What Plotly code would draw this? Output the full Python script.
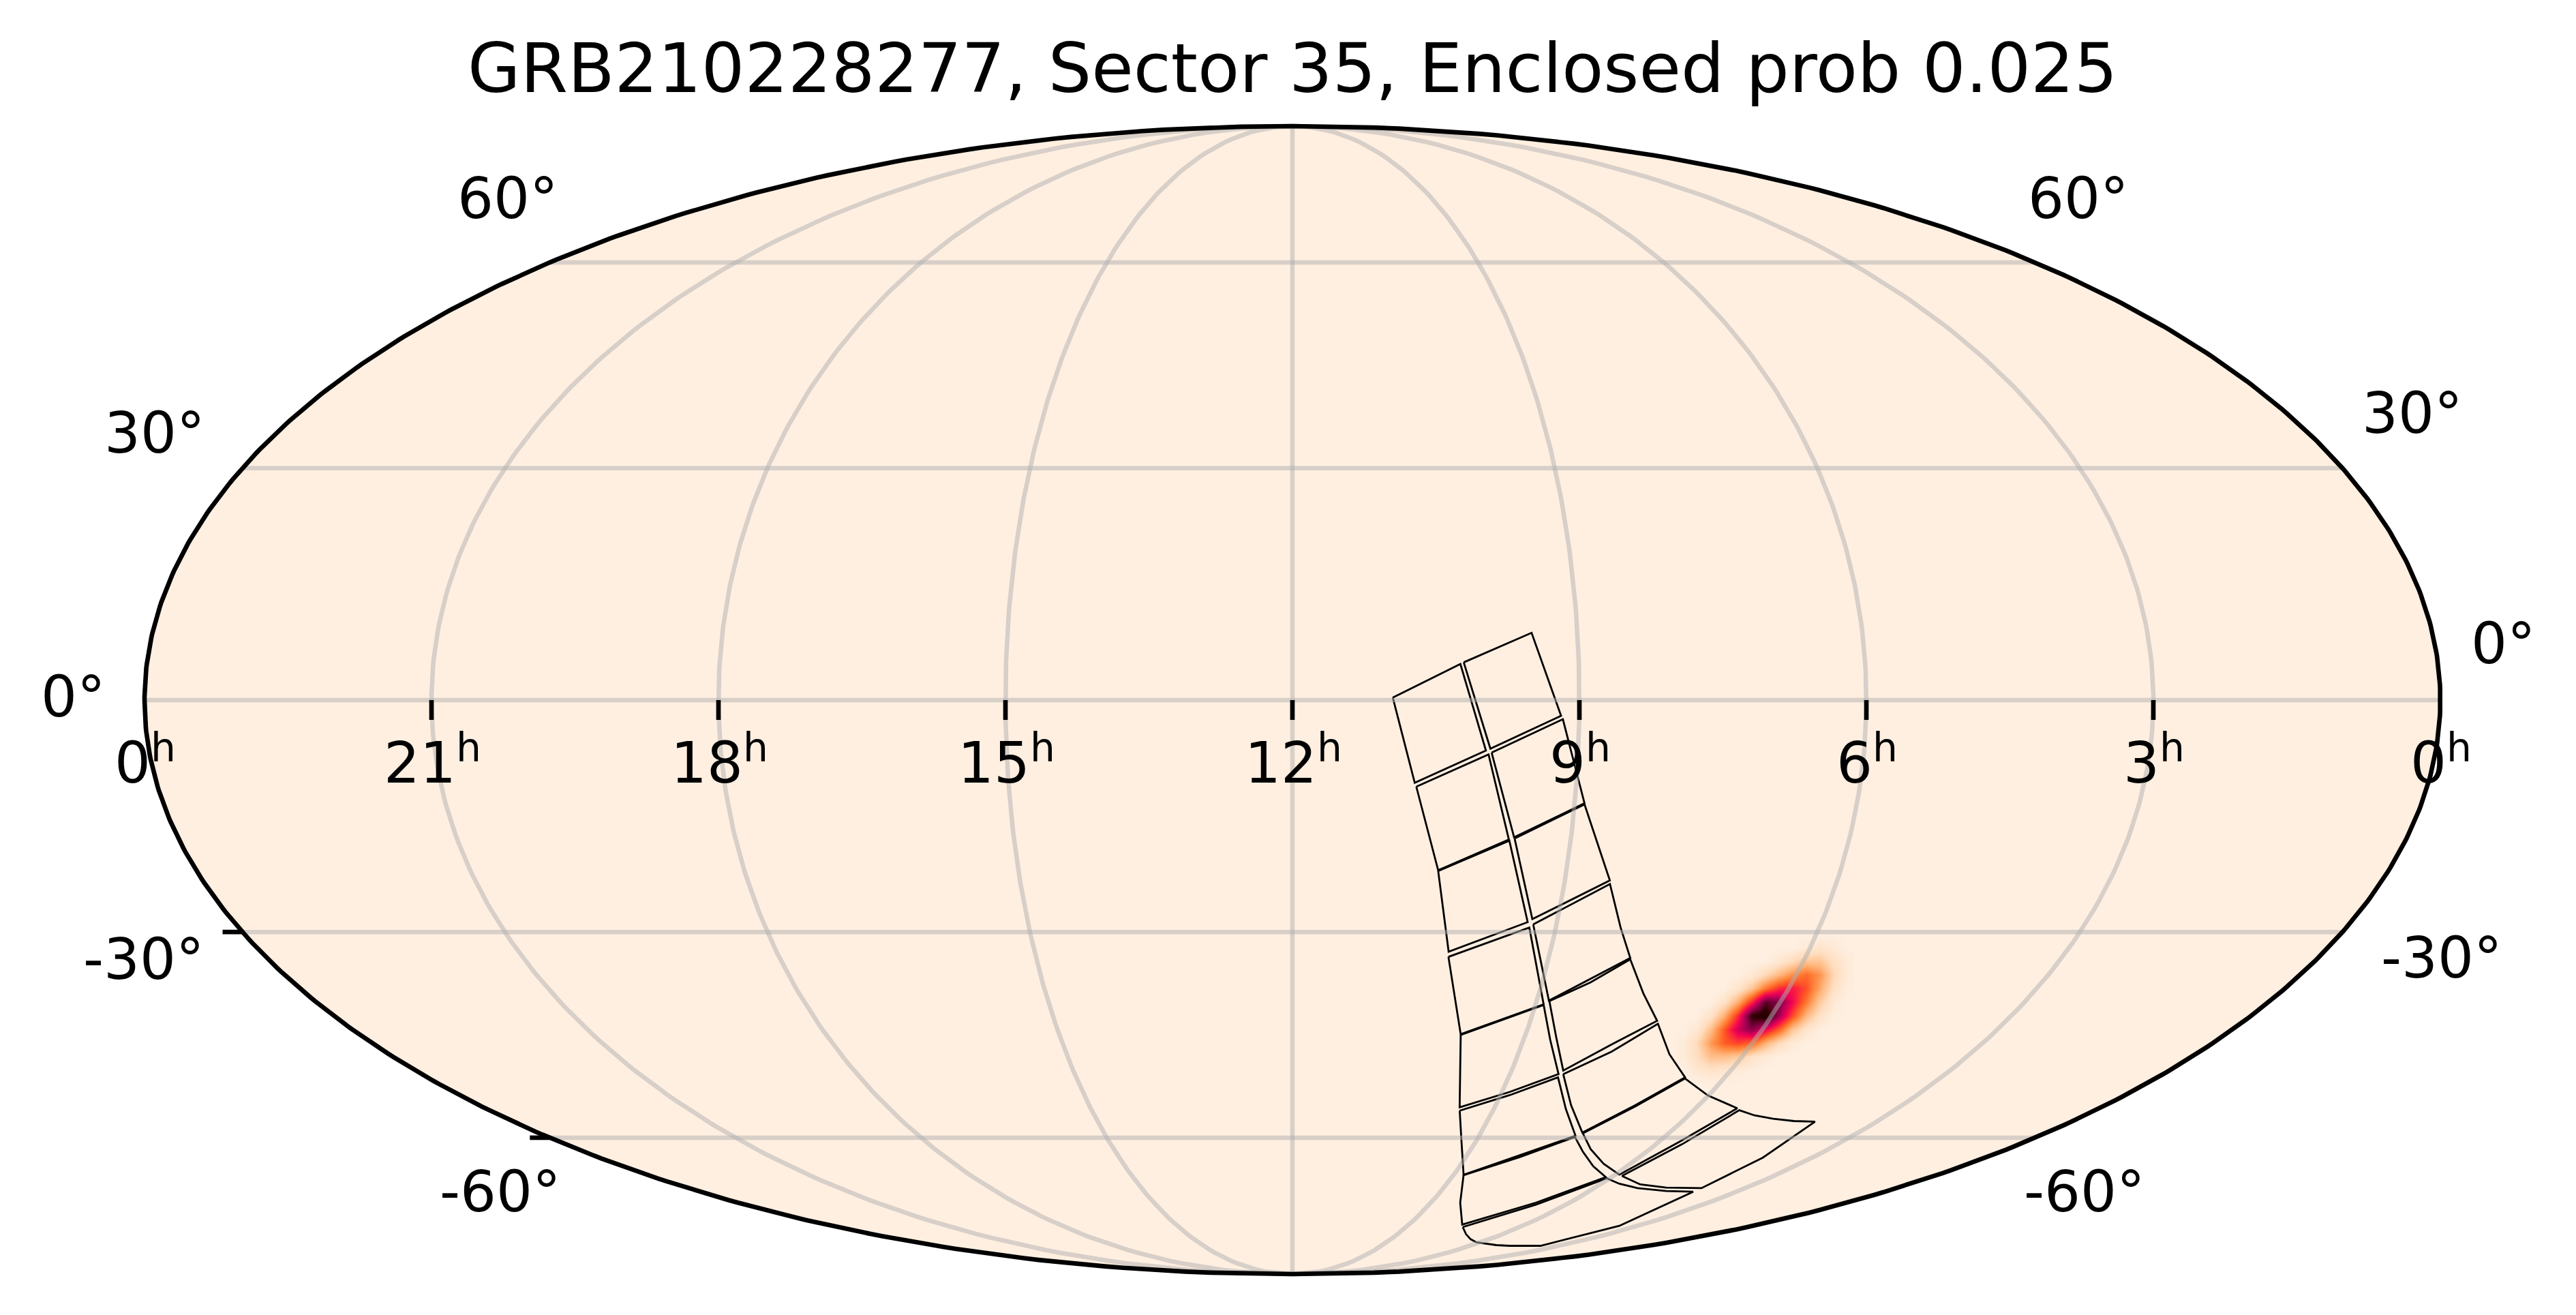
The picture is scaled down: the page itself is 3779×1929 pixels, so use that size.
import numpy as np
import plotly.graph_objects as go

title = "GRB210228277, Sector 35, Enclosed prob 0.025"

# CCD outlines of the sector footprint, RA and Dec in degrees
ccd_ra = [
    [164.26, 153.61, 149.54, 160.62],
    [153.08, 142.24, 137.86, 148.85],
    [160.35, 149.11, 145.01, 156.07],
    [148.63, 137.57, 133.44, 144.2],
    [156.06, 144.91, 140.0, 152.75],
    [144.1, 133.42, 127.57, 139.3],
    [152.65, 139.54, 133.55, 147.55],
    [138.98, 133.25, 127.44, 123.95, 120.7, 132.8],
    [147.51, 133.5, 129.88, 124.99, 133.37, 142.8, 145.52],
    [132.68, 126.3, 120.63, 116.0, 111.04, 117.47, 124.41, 128.9],
    [142.47, 133.03, 124.75, 118.91, 111.83, 121.39, 132.28, 138.48],
    [124.02, 116.7, 110.6, 104.89, 98.32, 104.16, 110.87, 118.31],
    [132.18, 121.01, 111.7, 106.27, 99.18, 91.66, 100.97, 114.43, 125.54],
    [110.59, 103.93, 98.12, 90.09, 80.8, 84.99, 88.86, 97.21, 104.93],
    [112.62, 99.94, 90.85, 84.83, 77.2, 66.87, 58.24, 52.28, 54.53, 70.1, 78.0, 86.74, 92.0, 98.59, 105.8],
    [87.62, 83.57, 79.85, 75.0, 69.81, 64.3, 59.28, 57.84, 58.17, 68.94, 78.38],
]
ccd_dec = [
    [0.32, 4.59, -6.42, -10.54],
    [4.8, 8.56, -1.99, -6.18],
    [-11.03, -6.91, -17.84, -21.83],
    [-6.68, -2.43, -13.16, -17.55],
    [-21.92, -17.99, -28.68, -32.65],
    [-17.7, -13.3, -23.17, -28.28],
    [-33.36, -29.41, -39.92, -44.18],
    [-28.99, -26.33, -23.63, -29.41, -33.52, -39.4],
    [-44.28, -40.02, -44.95, -50.04, -52.74, -55.12, -49.61],
    [-39.47, -36.86, -33.69, -38.38, -42.26, -45.66, -49.5, -44.6],
    [-55.65, -53.23, -50.52, -55.39, -59.68, -62.93, -66.32, -60.68],
    [-50.04, -46.72, -42.68, -47.08, -50.52, -54.81, -59.16, -54.81],
    [-66.41, -63.22, -59.88, -62.31, -64.82, -66.75, -71.5, -75.94, -71.5],
    [-59.28, -55.0, -50.7, -53.3, -55.27, -60.68, -66.32, -64.4, -61.9],
    [-76.46, -71.88, -66.97, -67.94, -68.75, -69.29, -69.42, -76.19, -80.74, -80.74, -80.57, -80.21, -79.9, -79.17, -78.0],
    [-66.54, -61.09, -55.58, -56.4, -56.93, -57.3, -57.39, -63.35, -68.75, -68.66, -68.07],
]

# localisation probability, scaled to its peak
blob_ra = [107.02, 104.47, 101.93, 99.39, 96.84, 94.3, 91.76, 89.22, 86.67, 84.13, 81.59, 79.04, 76.5]
blob_dec = [-30.26, -32.1, -33.95, -35.82, -37.71, -39.61, -41.53, -43.48, -45.45, -47.44, -49.46, -51.52]
blob_mid_dec = -40.9
blob_prob = [
    [0, 0, 0, 0, 0, 0, 0, 0, 0, 0, 0, 0, 0],
    [0, 0, 0, 0, 0, 0, 0, 0, 0, 0.03, 0.07, 0.04, 0],
    [0, 0, 0, 0, 0, 0, 0, 0.05, 0.12, 0.2, 0.2, 0.1, 0.03],
    [0, 0, 0, 0, 0, 0.04, 0.13, 0.24, 0.35, 0.42, 0.33, 0.14, 0.03],
    [0, 0, 0, 0, 0.07, 0.2, 0.4, 0.54, 0.57, 0.47, 0.28, 0.1, 0.01],
    [0, 0, 0, 0.09, 0.27, 0.54, 0.86, 0.8, 0.6, 0.39, 0.18, 0.04, 0],
    [0, 0, 0.08, 0.27, 0.54, 0.93, 1.0, 0.74, 0.48, 0.24, 0.09, 0.01, 0],
    [0, 0.05, 0.22, 0.46, 0.67, 0.78, 0.62, 0.44, 0.2, 0.07, 0.01, 0, 0],
    [0.02, 0.13, 0.32, 0.45, 0.49, 0.43, 0.26, 0.12, 0.03, 0, 0, 0, 0],
    [0.02, 0.11, 0.22, 0.22, 0.18, 0.09, 0.03, 0, 0, 0, 0, 0, 0],
    [0, 0.05, 0.08, 0.06, 0.03, 0.01, 0, 0, 0, 0, 0, 0, 0],
    [0, 0, 0, 0, 0, 0, 0, 0, 0, 0, 0, 0, 0],
]

grid_hours = [3, 6, 9, 12, 15, 18, 21]
grid_decs = [-60, -30, 0, 30, 60]
ticked_decs = [-30, -60]
hour_labels = ["0", "21", "18", "15", "12", "9", "6", "3", "0"]
hour_label_ra = [360, 315, 270, 225, 180, 135, 90, 45, 0]
dec_labels = ["60°", "60°", "30°", "30°", "0°", "0°", "-30°", "-30°", "-60°", "-60°"]

WIDTH, HEIGHT = 3779, 1929
CX, CY, HALF_W, HALF_H = 1896, 1027, 1684, 842
BG = "#FEEFE1"
GRID = "rgba(176,176,176,0.5)"
SQRT2 = np.sqrt(2)


def mollweide(ra, dec):
    ra = np.asarray(ra, dtype=float)
    dec = np.radians(np.asarray(dec, dtype=float))
    ra, dec = np.broadcast_arrays(ra, dec)
    theta = dec.copy()
    for _ in range(60):
        step = (2 * theta + np.sin(2 * theta) - np.pi * np.sin(dec)) / (
            2 + 2 * np.cos(2 * theta) + 1e-9
        )
        theta = np.clip(theta - step, -np.pi / 2, np.pi / 2)
    x = 2 * SQRT2 / np.pi * np.radians(180 - ra) * np.cos(theta)
    y = SQRT2 * np.sin(theta)
    return x, y


def px_x(p):
    return (p - CX) / HALF_W * 2 * SQRT2


def px_y(p):
    return (CY - p) / HALF_H * SQRT2


fig = go.Figure()

colorscale = [
    [0.0, BG],
    [0.12, "#FFDDBE"],
    [0.25, "#FFB67C"],
    [0.38, "#FF7F35"],
    [0.46, "#FF5526"],
    [0.55, "#FA2040"],
    [0.62, "#EE0055"],
    [0.72, "#AD0055"],
    [0.82, "#750038"],
    [0.92, "#350005"],
    [1.0, "#200000"],
]
blob_x, _ = mollweide(blob_ra, blob_mid_dec)
_, blob_y = mollweide(180.0, blob_dec)
fig.add_trace(
    go.Heatmap(
        x=blob_x,
        y=blob_y,
        z=blob_prob,
        zmin=0,
        zmax=1,
        zsmooth="best",
        colorscale=colorscale,
        showscale=False,
        hoverinfo="skip",
    )
)

for ra, dec in zip(ccd_ra, ccd_dec):
    x, y = mollweide(ra + ra[:1], dec + dec[:1])
    fig.add_trace(
        go.Scatter(x=x, y=y, mode="lines", line=dict(color="black", width=2.8), hoverinfo="skip")
    )

merid_dec = np.linspace(-90, 90, 241)
for hour in grid_hours:
    x, y = mollweide(hour * 15.0, merid_dec)
    fig.add_trace(
        go.Scatter(x=x, y=y, mode="lines", line=dict(color=GRID, width=6.5), hoverinfo="skip")
    )
par_ra = np.linspace(0, 360, 9)
for dec in grid_decs:
    x, y = mollweide(par_ra, float(dec))
    fig.add_trace(
        go.Scatter(x=x, y=y, mode="lines", line=dict(color=GRID, width=6.5), hoverinfo="skip")
    )

rim_dec = np.linspace(-90, 90, 361)
rim_x = np.concatenate([mollweide(0.0, rim_dec)[0], mollweide(360.0, rim_dec[::-1])[0]])
rim_y = np.concatenate([mollweide(0.0, rim_dec)[1], mollweide(360.0, rim_dec[::-1])[1]])
fig.add_trace(
    go.Scatter(x=rim_x, y=rim_y, mode="lines", line=dict(color="black", width=6.67), hoverinfo="skip")
)

rim_path = "M" + " L".join(f"{a:.5f},{b:.5f}" for a, b in zip(rim_x, rim_y)) + " Z"
shapes = [
    dict(type="path", path=rim_path, xref="x", yref="y", fillcolor=BG, line=dict(width=0), layer="below")
]
for hour in grid_hours:
    x, y = mollweide(hour * 15.0, 0.0)
    shapes.append(
        dict(
            type="line", xref="x", yref="y", xsizemode="pixel", ysizemode="pixel",
            xanchor=float(x), yanchor=float(y), x0=0, x1=0, y0=0, y1=-29,
            line=dict(color="black", width=6.67),
        )
    )
for dec in ticked_decs:
    x, y = mollweide(360.0, float(dec))
    shapes.append(
        dict(
            type="line", xref="x", yref="y", xsizemode="pixel", ysizemode="pixel",
            xanchor=float(x), yanchor=float(y), x0=0, x1=-29, y0=0, y1=0,
            line=dict(color="black", width=6.67),
        )
    )


def label(text, left, baseline, size=83.3, anchor="center"):
    return dict(
        text=text, x=left / WIDTH, y=(HEIGHT - baseline - 0.236 * size) / HEIGHT,
        xref="paper", yref="paper", xanchor=anchor, yanchor="bottom",
        showarrow=False, borderpad=0, font=dict(family="DejaVu Sans", size=size, color="black"),
    )


annotations = []
for text, ra in zip(hour_labels, hour_label_ra):
    x, _ = mollweide(float(ra), 0.0)
    cx = float(CX + x / (2 * SQRT2) * HALF_W)
    digits_w = 53 * len(text)
    left = cx - (digits_w + 37) / 2
    annotations.append(label(text, left, 1149, anchor="left"))
    annotations.append(label("h", left + digits_w, 1118, size=58.3, anchor="left"))
dec_spots = [
    (745, 321), (3049, 321), (227, 665), (3539, 636), (107, 1052),
    (3672, 974), (211, 1437), (3582, 1435), (734, 1778), (3058, 1778),
]
for text, (cx, base) in zip(dec_labels, dec_spots):
    annotations.append(label(text, cx, base))
annotations.append(label(title, 1896, 136, size=100))

fig.update_layout(
    width=WIDTH,
    height=HEIGHT,
    autosize=False,
    margin=dict(l=0, r=0, t=0, b=0, pad=0),
    paper_bgcolor="white",
    plot_bgcolor="white",
    showlegend=False,
    shapes=shapes,
    annotations=annotations,
)
fig.update_xaxes(visible=False, range=[px_x(0), px_x(WIDTH)], fixedrange=True)
fig.update_yaxes(visible=False, range=[px_y(HEIGHT), px_y(0)], fixedrange=True)

fig.write_html(
    "out.html",
    config={"displayModeBar": False},
    post_script="document.body.style.margin='0';document.body.style.overflow='hidden';",
)
